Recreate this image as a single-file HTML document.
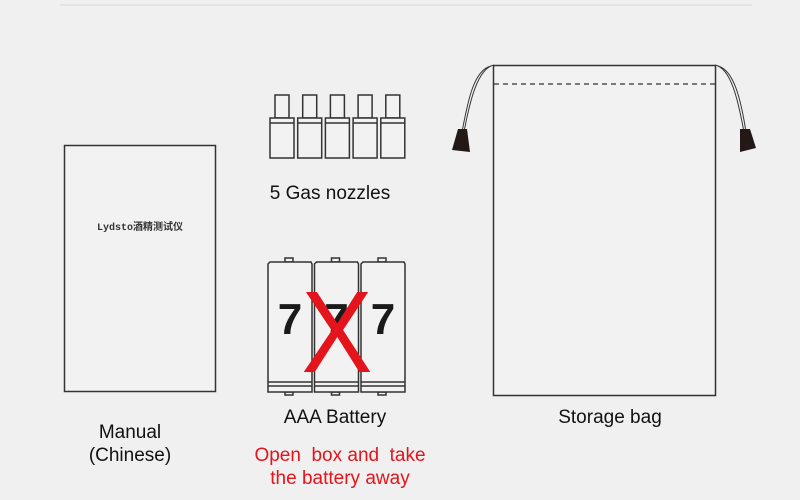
<!DOCTYPE html>
<html><head><meta charset="utf-8"><style>
body{margin:0;width:800px;height:500px;background:#f0f0f0;overflow:hidden;position:relative;font-family:"Liberation Sans","Noto Sans CJK SC",sans-serif}
.t{position:absolute;text-align:center;color:#111;font-size:19px;line-height:23px}
</style></head><body>
<svg width="800" height="500" style="position:absolute;left:0;top:0">
<line x1="60" y1="5" x2="752" y2="5" stroke="#d8d8d8" stroke-width="1"/>
<rect x="64.5" y="145.5" width="151" height="246" fill="#f2f2f2" stroke="#333" stroke-width="1.5"/>
<g fill="#f2f2f2" stroke="#333" stroke-width="1.5">
<g id="nz">
<rect x="275" y="95" width="14" height="23"/>
<rect x="270" y="118" width="24" height="40"/>
<line x1="270" y1="123" x2="294" y2="123"/>
</g>
<use href="#nz" x="27.7"/><use href="#nz" x="55.4"/><use href="#nz" x="83.1"/><use href="#nz" x="110.8"/>
</g>
<g fill="#f2f2f2" stroke="#333" stroke-width="1.5">
<g id="bt">
<rect x="285" y="258" width="8" height="4"/>
<rect x="285" y="392" width="8" height="3"/>
<path d="M270,262 H311 L312,264 V392 H268 V264 Z"/>
<line x1="268" y1="382" x2="312" y2="382"/>
<line x1="268" y1="386" x2="312" y2="386"/>
<text x="290" y="334" font-family="Liberation Sans,sans-serif" font-size="44" font-weight="bold" fill="#1a1a1a" stroke="none" text-anchor="middle">7</text>
</g>
<use href="#bt" x="46.5"/><use href="#bt" x="93"/>
</g>
<text x="337" y="372" font-family="Liberation Sans,sans-serif" font-size="116" fill="#e3141b" text-anchor="middle" transform="translate(337 0) scale(0.92 1) translate(-337 0)">X</text>
<rect x="493.5" y="65.5" width="222" height="330" fill="#f2f2f2" stroke="#333" stroke-width="1.5"/>
<line x1="494" y1="84" x2="715" y2="84" stroke="#333" stroke-width="1.3" stroke-dasharray="5,4"/>
<g fill="none" stroke="#333" stroke-width="1">
<path d="M494,65 C478,68 470,100 464,132"/><path d="M491,66 C474,70 468,100 462,132"/>
<path d="M715,65 C731,68 738,100 744,132"/><path d="M718,66 C734,70 741,100 746,132"/>
</g>
<path d="M458,129 L467,129 L470,152 L452,150 Z" fill="#231815"/>
<path d="M740,129 L750,129 L756,148 L740,152 Z" fill="#231815"/>
<text x="140" y="230" font-size="10" font-weight="bold" fill="#333" text-anchor="middle" font-family="Liberation Mono,Noto Sans CJK SC,monospace">Lydsto酒精测试仪</text>
</svg>
<div class="t" style="left:230px;top:182px;width:200px">5 Gas nozzles</div>
<div class="t" style="left:235px;top:406px;width:200px">AAA Battery</div>
<div class="t" style="left:215px;top:444px;width:250px;color:#e3141b">Open &nbsp;box and &nbsp;take<br>the battery away</div>
<div class="t" style="left:50px;top:421px;width:160px">Manual<br>(Chinese)</div>
<div class="t" style="left:510px;top:406px;width:200px">Storage bag</div>
</body></html>
